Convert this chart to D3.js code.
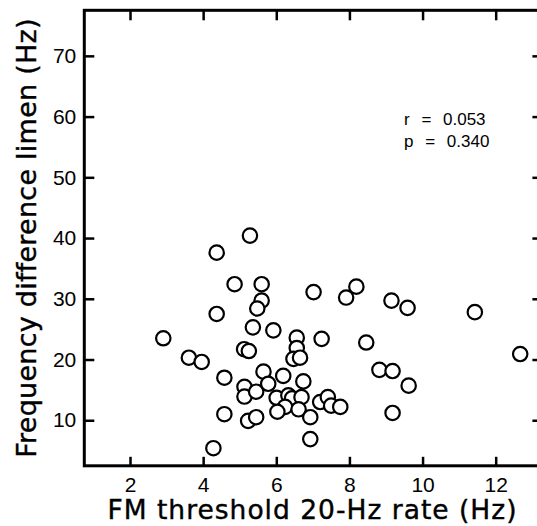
<!DOCTYPE html>
<html>
<head>
<meta charset="utf-8">
<script src="https://cdn.jsdelivr.net/npm/d3@7"></script>
<style>
body { margin: 0; background: #fff; }
text { font-family: "Liberation Sans", Arial, sans-serif; fill: #000; }
</style>
</head>
<body>
<div id="chart"></div>
<script>
// FM threshold at 20-Hz rate (Hz) per listener
var fmThreshold = [2.91, 3.61, 3.96, 4.37, 4.37, 4.28, 4.58, 4.58, 4.86, 5.28,
    5.60, 5.60, 5.48, 5.36, 5.92, 5.12, 5.25, 5.13, 5.13, 5.45,
    5.65, 5.78, 5.23, 5.45, 6.56, 7.24, 8.46, 6.56, 6.47, 6.65,
    6.19, 6.74, 6.01, 6.33, 6.43, 6.69, 6.24, 6.03, 6.61, 7.20,
    7.41, 7.50, 7.75, 6.93, 6.93, 7.02, 7.91, 8.19, 9.15, 9.59,
    11.43, 12.67, 8.82, 9.18, 9.62, 9.18];
// frequency difference limen (Hz), same order
var freqDL = [23.5, 20.3, 19.6, 37.6, 27.5, 5.4, 17.0, 11.0, 32.4, 40.4,
    32.4, 29.7, 28.4, 25.3, 24.8, 21.7, 21.4, 15.5, 13.9, 14.7,
    18.0, 16.0, 9.9, 10.5, 23.6, 23.4, 22.8, 21.9, 20.1, 20.3,
    17.3, 16.4, 13.7, 14.1, 13.6, 13.8, 12.2, 11.4, 11.8, 13.0,
    13.8, 12.4, 12.2, 10.5, 6.9, 31.1, 30.2, 32.0, 29.7, 28.5,
    27.8, 20.9, 18.3, 18.1, 15.7, 11.2];
var xTicks = [2, 4, 6, 8, 10, 12];
var yTicks = [10, 20, 30, 40, 50, 60, 70];
var statLines = ["r = 0.053", "p = 0.340"];
var xTitle = "FM threshold 20-Hz rate (Hz)";
var yTitle = "Frequency difference limen (Hz)";

var width = 537, height = 526;
var mLeft = 84.3, mRight = 541.4, mTop = 10.3, mBottom = 465.8;

var svg = d3.select("#chart").append("svg").attr("width", width).attr("height", height);

var x = d3.scaleLinear().domain([0.75, 13.25]).range([mLeft, mRight]);
var y = d3.scaleLinear().domain([2.5, 77.5]).range([mBottom, mTop]);

function styleAxis(g, hideLabels) {
    g.select(".domain").remove();
    g.selectAll(".tick line").attr("stroke", "#000").attr("stroke-width", 2.5);
    g.selectAll(".tick text").style("font-size", "21px").style("font-family", "'Liberation Sans', Arial, sans-serif");
    if (hideLabels) g.selectAll(".tick text").remove();
}

svg.append("g").attr("transform", "translate(0," + mBottom + ")")
    .call(d3.axisBottom(x).tickValues(xTicks).tickSize(-9).tickSizeOuter(0).tickPadding(11))
    .call(g => styleAxis(g, false));
svg.append("g").attr("transform", "translate(0," + mTop + ")")
    .call(d3.axisTop(x).tickValues(xTicks).tickSize(-10).tickSizeOuter(0))
    .call(g => styleAxis(g, true));
svg.append("g").attr("transform", "translate(" + mLeft + ",0)")
    .call(d3.axisLeft(y).tickValues(yTicks).tickSize(-10).tickSizeOuter(0).tickPadding(8))
    .call(g => styleAxis(g, false));
svg.append("g").attr("transform", "translate(" + mRight + ",0)")
    .call(d3.axisRight(y).tickValues(yTicks).tickSize(-9).tickSizeOuter(0))
    .call(g => styleAxis(g, true));

svg.append("rect").attr("x", mLeft).attr("y", mTop).attr("width", mRight - mLeft).attr("height", mBottom - mTop)
    .attr("fill", "none").attr("stroke", "#000").attr("stroke-width", 3);

var points = fmThreshold.map((v, i) => ({ fm: v, fdl: freqDL[i] }));
svg.selectAll(".dot").data(points).enter().append("circle").attr("class", "dot")
    .attr("cx", d => x(d.fm)).attr("cy", d => y(d.fdl)).attr("r", 7.2)
    .attr("fill", "#fff").attr("stroke", "#000").attr("stroke-width", 2.2);

svg.selectAll(".stat").data(statLines).enter().append("text").attr("class", "stat")
    .attr("x", 404).attr("y", (d, i) => 125 + i * 22)
    .style("font-size", "17px").style("word-spacing", "7px").text(d => d);

svg.append("text").attr("x", 312.5).attr("y", 518.5).attr("text-anchor", "middle")
    .style("font-family", "'DejaVu Sans', sans-serif").style("font-size", "26.5px")
    .style("letter-spacing", "1px").style("stroke", "#000").style("stroke-width", "0.4px")
    .text(xTitle);

svg.append("text").attr("transform", "translate(35.5,238) rotate(-90)").attr("text-anchor", "middle")
    .style("font-family", "'DejaVu Sans', sans-serif").style("font-size", "27px")
    .style("letter-spacing", "0.25px").style("stroke", "#000").style("stroke-width", "0.4px")
    .text(yTitle);
</script>
</body>
</html>
